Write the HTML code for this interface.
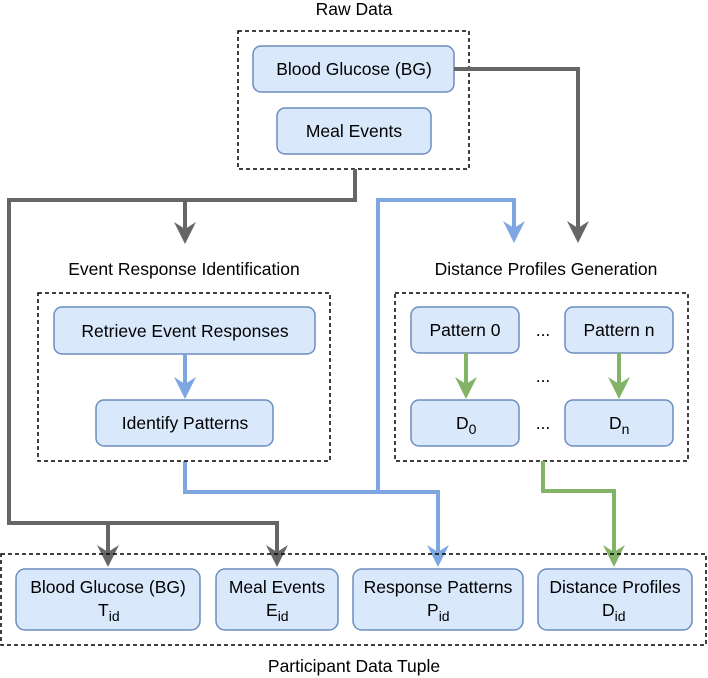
<!DOCTYPE html>
<html><head><meta charset="utf-8"><style>
html,body{margin:0;padding:0;background:#fff;}
svg{display:block;}
text{font-family:"Liberation Sans",Helvetica,Arial,sans-serif;font-size:17.5px;fill:#000;}
.b{fill:#dae8fc;stroke:#6c8ebf;stroke-width:1.5;}
.d{fill:none;stroke:#000;stroke-width:1.5;stroke-dasharray:4 3;}
.g{fill:none;stroke:#666;stroke-width:4;}
.bl{fill:none;stroke:#7ea6e0;stroke-width:4;}
.gr{fill:none;stroke:#82b366;stroke-width:4;}
</style></head><body>
<svg width="708" height="678" viewBox="0 0 708 678" xmlns="http://www.w3.org/2000/svg">
<defs>
<marker id="ag" viewBox="0 0 22 22" refX="7" refY="11" markerWidth="22" markerHeight="22" orient="auto" markerUnits="userSpaceOnUse"><path d="M0,0 L22,11 L0,22 L7,11 z" fill="#666"/></marker>
<marker id="ab" viewBox="0 0 22 22" refX="7" refY="11" markerWidth="22" markerHeight="22" orient="auto" markerUnits="userSpaceOnUse"><path d="M0,0 L22,11 L0,22 L7,11 z" fill="#7ea6e0"/></marker>
<marker id="agr" viewBox="0 0 22 22" refX="7" refY="11" markerWidth="22" markerHeight="22" orient="auto" markerUnits="userSpaceOnUse"><path d="M0,0 L22,11 L0,22 L7,11 z" fill="#82b366"/></marker>
</defs>

<!-- Raw Data -->
<text x="354" y="15" text-anchor="middle">Raw Data</text>
<rect class="d" x="238" y="31" width="231" height="138"/>
<rect class="b" x="253" y="46" width="201" height="46" rx="8"/>
<text x="354" y="75" text-anchor="middle">Blood Glucose (BG)</text>
<rect class="b" x="277" y="108" width="154" height="46" rx="8"/>
<text x="354" y="137" text-anchor="middle">Meal Events</text>

<!-- gray connectors -->
<path class="g" d="M454,69 H578 V228" marker-end="url(#ag)"/>
<path class="g" d="M355,169 V200 H9 V523 H277 V552" marker-end="url(#ag)"/>
<path class="g" d="M185,200 V229" marker-end="url(#ag)"/>
<path class="g" d="M108,523 V552" marker-end="url(#ag)"/>

<!-- blue connectors -->
<path class="bl" d="M185,461 V492 H438 V552" marker-end="url(#ab)"/>
<path class="bl" d="M378,492 V200 H514 V228" marker-end="url(#ab)"/>

<!-- Event Response Identification -->
<text x="184" y="275" text-anchor="middle">Event Response Identification</text>
<rect class="d" x="38" y="293" width="292" height="168"/>
<rect class="b" x="54" y="307" width="261" height="47" rx="8"/>
<text x="185" y="337" text-anchor="middle">Retrieve Event Responses</text>
<path class="bl" d="M185,354 V384" marker-end="url(#ab)"/>
<rect class="b" x="96" y="400" width="177" height="46" rx="8"/>
<text x="185" y="429" text-anchor="middle">Identify Patterns</text>

<!-- Distance Profiles Generation -->
<text x="546" y="275" text-anchor="middle">Distance Profiles Generation</text>
<rect class="d" x="395" y="293" width="293" height="168"/>
<rect class="b" x="411" y="307" width="108" height="46" rx="8"/>
<text x="465" y="336" text-anchor="middle">Pattern 0</text>
<rect class="b" x="565" y="307" width="108" height="46" rx="8"/>
<text x="619" y="336" text-anchor="middle">Pattern n</text>
<text x="543" y="336" text-anchor="middle" font-size="13">...</text>
<text x="543" y="382" text-anchor="middle" font-size="13">...</text>
<text x="543" y="429" text-anchor="middle" font-size="13">...</text>
<path class="gr" d="M466,353 V384" marker-end="url(#agr)"/>
<path class="gr" d="M619,353 V384" marker-end="url(#agr)"/>
<rect class="b" x="411" y="400" width="108" height="46" rx="8"/>
<text x="456" y="429">D<tspan font-size="14" dy="5">0</tspan></text>
<rect class="b" x="565" y="400" width="108" height="46" rx="8"/>
<text x="609" y="429">D<tspan font-size="14" dy="5">n</tspan></text>

<path class="gr" d="M543,461 V491 H614 V552" marker-end="url(#agr)"/>

<!-- Participant Data Tuple -->
<rect class="d" x="1" y="554" width="705" height="91"/>
<rect class="b" x="16" y="569" width="184" height="61" rx="9"/>
<text x="108" y="593" text-anchor="middle">Blood Glucose (BG)</text>
<text x="98" y="616">T<tspan font-size="14" dy="5">id</tspan></text>
<rect class="b" x="216" y="569" width="122" height="61" rx="9"/>
<text x="277" y="593" text-anchor="middle">Meal Events</text>
<text x="266" y="616">E<tspan font-size="14" dy="5">id</tspan></text>
<rect class="b" x="353" y="569" width="170" height="61" rx="9"/>
<text x="438" y="593" text-anchor="middle">Response Patterns</text>
<text x="427" y="616">P<tspan font-size="14" dy="5">id</tspan></text>
<rect class="b" x="538" y="569" width="154" height="61" rx="9"/>
<text x="615" y="593" text-anchor="middle">Distance Profiles</text>
<text x="602" y="616">D<tspan font-size="14" dy="5">id</tspan></text>
<text x="354" y="672" text-anchor="middle">Participant Data Tuple</text>
</svg>
</body></html>
